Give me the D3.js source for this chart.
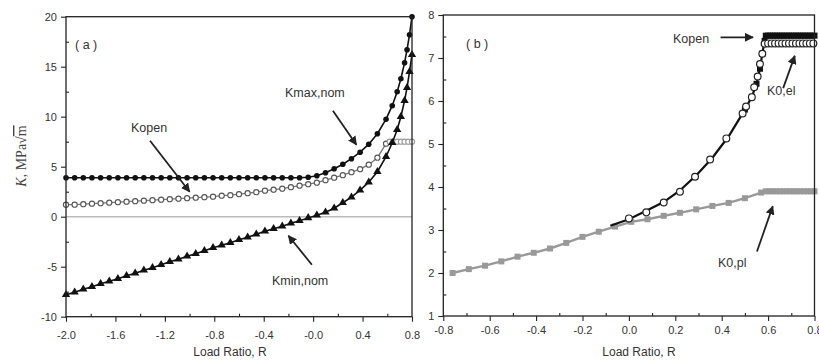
<!DOCTYPE html>
<html>
<head>
<meta charset="utf-8">
<script src="https://cdn.jsdelivr.net/npm/d3@7"></script>
<style>
  body { margin: 0; background: #fff; }
  text { font-family: "Liberation Sans", Arial, sans-serif; }
</style>
</head>
<body>
<svg id="chart" width="819" height="363"></svg>
<script>
// panel (a) - nominal K values vs load ratio
const rA = [-2.00, -1.93, -1.86, -1.79, -1.72, -1.65, -1.58, -1.51, -1.44, -1.37, -1.30, -1.23, -1.16, -1.09, -1.02,
  -0.95, -0.88, -0.81, -0.74, -0.67, -0.60, -0.53, -0.46, -0.39, -0.32, -0.25, -0.18, -0.11, -0.04,
  0.03, 0.10, 0.17, 0.24, 0.31, 0.38, 0.45, 0.52, 0.59, 0.64, 0.68, 0.71, 0.74, 0.76, 0.78, 0.80];
const kmaxA = [3.9, 3.9, 3.9, 3.9, 3.9, 3.9, 3.9, 3.9, 3.9, 3.9, 3.9, 3.9, 3.9, 3.9, 3.9,
  3.9, 3.9, 3.9, 3.9, 3.9, 3.9, 3.9, 3.9, 3.9, 3.9, 3.9, 3.9, 3.9, 3.95,
  4.1, 4.4, 4.8, 5.25, 5.8, 6.45, 7.25, 8.3, 9.75, 11.1, 12.5, 13.8, 15.4, 16.7, 18.2, 20.0];
const kminA = [-7.8, -7.55, -7.25, -7.0, -6.7, -6.45, -6.2, -5.9, -5.65, -5.35, -5.1, -4.8, -4.5, -4.25, -3.95,
  -3.7, -3.4, -3.1, -2.85, -2.6, -2.3, -2.05, -1.75, -1.45, -1.2, -0.95, -0.65, -0.4, -0.12,
  0.15, 0.45, 0.85, 1.4, 1.95, 2.65, 3.45, 4.5, 6.0, 7.4, 8.7, 10.0, 11.6, 12.9, 14.5, 16.2];
const rOpenA = [-2.00, -1.93, -1.86, -1.79, -1.72, -1.65, -1.58, -1.51, -1.44, -1.37, -1.30, -1.23, -1.16, -1.09, -1.02,
  -0.95, -0.88, -0.81, -0.74, -0.67, -0.60, -0.53, -0.46, -0.39, -0.32, -0.25, -0.18, -0.11, -0.04,
  0.03, 0.10, 0.17, 0.24, 0.31, 0.38, 0.45, 0.52, 0.59, 0.62, 0.65, 0.68, 0.71, 0.74, 0.77, 0.80];
const kOpenA = [1.2, 1.2, 1.25, 1.3, 1.35, 1.4, 1.45, 1.5, 1.55, 1.6, 1.65, 1.7, 1.75, 1.8, 1.85,
  1.9, 1.95, 2.0, 2.1, 2.15, 2.25, 2.35, 2.45, 2.6, 2.7, 2.8, 2.95, 3.1, 3.25,
  3.4, 3.65, 3.9, 4.15, 4.45, 4.75, 5.2, 5.9, 7.3, 7.5, 7.5, 7.5, 7.5, 7.5, 7.5, 7.5];

// panel (b) - opening levels
const rPl = [-0.76, -0.69, -0.62, -0.55, -0.48, -0.41, -0.34, -0.27, -0.20, -0.13, -0.06, 0.01, 0.08, 0.15,
  0.22, 0.29, 0.36, 0.43, 0.50, 0.57, 0.59, 0.605, 0.62, 0.635, 0.65, 0.665, 0.68, 0.695, 0.71, 0.725,
  0.74, 0.755, 0.77, 0.785, 0.80];
const kPl = [2.0, 2.09, 2.17, 2.27, 2.38, 2.47, 2.57, 2.70, 2.84, 2.96, 3.08, 3.19, 3.25, 3.33,
  3.40, 3.48, 3.56, 3.63, 3.74, 3.87, 3.9, 3.9, 3.9, 3.9, 3.9, 3.9, 3.9, 3.9, 3.9, 3.9,
  3.9, 3.9, 3.9, 3.9, 3.9];
const rEl = [0.0, 0.075, 0.15, 0.22, 0.285, 0.35, 0.42, 0.49, 0.505, 0.53, 0.54, 0.555, 0.565, 0.575, 0.585,
  0.60, 0.615, 0.63, 0.645, 0.66, 0.675, 0.69, 0.705, 0.72, 0.735, 0.75, 0.765, 0.78, 0.795];
const kEl = [3.27, 3.41, 3.64, 3.89, 4.24, 4.64, 5.13, 5.71, 5.87, 6.09, 6.32, 6.57, 6.86, 7.1, 7.33,
  7.34, 7.34, 7.34, 7.34, 7.34, 7.34, 7.34, 7.34, 7.34, 7.34, 7.34, 7.34, 7.34, 7.34];
const rOp = [-0.08, 0.0, 0.075, 0.15, 0.22, 0.29, 0.36, 0.43, 0.50, 0.53, 0.55, 0.565, 0.575, 0.585, 0.59,
  0.60, 0.61, 0.62, 0.63, 0.64, 0.65, 0.66, 0.67, 0.68, 0.69, 0.70, 0.71, 0.72, 0.73, 0.74, 0.75,
  0.76, 0.77, 0.78, 0.79, 0.80];
const kOp = [3.1, 3.25, 3.45, 3.65, 3.92, 4.27, 4.68, 5.18, 5.8, 6.1, 6.4, 6.75, 7.1, 7.4, 7.52,
  7.52, 7.52, 7.52, 7.52, 7.52, 7.52, 7.52, 7.52, 7.52, 7.52, 7.52, 7.52, 7.52, 7.52, 7.52, 7.52,
  7.52, 7.52, 7.52, 7.52, 7.52];

// tick labels
const xTicksA = [-2.0, -1.6, -1.2, -0.8, -0.4, 0.0, 0.4, 0.8];
const xLabelsA = ["-2.0", "-1.6", "-1.2", "-0.8", "-0.4", "-0.0", "0.4", "0.8"];
const yTicksA = [20, 15, 10, 5, 0, -5, -10];
const xTicksB = [-0.8, -0.6, -0.4, -0.2, 0.0, 0.2, 0.4, 0.6, 0.8];
const xLabelsB = ["-0.8", "-0.6", "-0.4", "-0.2", "0.0", "0.2", "0.4", "0.6", "0.8"];
const yTicksB = [1, 2, 3, 4, 5, 6, 7, 8];

const svg = d3.select("#chart");
const ink = "#222";

// arrowhead marker
svg.append("defs").append("marker")
  .attr("id", "head")
  .attr("viewBox", "0 0 10 10")
  .attr("refX", 9).attr("refY", 5)
  .attr("markerWidth", 9).attr("markerHeight", 9)
  .attr("markerUnits", "userSpaceOnUse")
  .attr("orient", "auto")
  .append("path").attr("d", "M0,0 L10,5 L0,10 z").attr("fill", ink);

function frame(g, x, y, xt, xl, yt, minorX, minorY, labelDy) {
  let [x0, x1] = x.range(), [y0, y1] = y.range();
  // major ticks outside with labels
  g.append("g").attr("transform", `translate(0,${y0})`)
    .call(d3.axisBottom(x).tickValues(xt).tickFormat((d, i) => xl[i]).tickSize(5).tickSizeOuter(0).tickPadding(labelDy))
    .call(a => a.select(".domain").remove());
  g.append("g").attr("transform", `translate(${x0},0)`)
    .call(d3.axisLeft(y).tickValues(yt).tickFormat(d => String(d)).tickSize(5).tickSizeOuter(0).tickPadding(4))
    .call(a => a.select(".domain").remove());
  // minor ticks inside
  g.append("g").attr("transform", `translate(0,${y0})`)
    .call(d3.axisBottom(x).tickValues(minorX).tickFormat("").tickSize(-3).tickSizeOuter(0))
    .call(a => a.select(".domain").remove());
  g.append("g").attr("transform", `translate(${x0},0)`)
    .call(d3.axisLeft(y).tickValues(minorY).tickFormat("").tickSize(-3).tickSizeOuter(0))
    .call(a => a.select(".domain").remove());
  g.selectAll(".tick line").attr("stroke", ink).attr("stroke-width", 1.1);
  g.selectAll(".tick text").attr("font-size", 11).attr("fill", "#333")
    .attr("font-family", "'Liberation Sans', Arial, sans-serif");
  g.append("rect").attr("x", x0).attr("y", y1).attr("width", x1 - x0).attr("height", y0 - y1)
    .attr("fill", "none").attr("stroke", ink).attr("stroke-width", 1.3);
}

function arrow(g, x1, y1, x2, y2) {
  g.append("line").attr("x1", x1).attr("y1", y1).attr("x2", x2).attr("y2", y2)
    .attr("stroke", ink).attr("stroke-width", 1.8).attr("marker-end", "url(#head)");
}

function label(g, x, y, t, anchor) {
  return g.append("text").attr("x", x).attr("y", y).attr("font-size", 12.5)
    .attr("fill", "#333").attr("text-anchor", anchor || "start").text(t);
}

// ---------- panel (a) ----------
const xA = d3.scaleLinear().domain([-2.0, 0.8]).range([66, 412]);
const yA = d3.scaleLinear().domain([-10, 20]).range([316.7, 16.7]);
const gA = svg.append("g");

gA.append("line").attr("x1", xA(-2.0)).attr("x2", xA(0.8)).attr("y1", yA(0)).attr("y2", yA(0))
  .attr("stroke", "#bbb").attr("stroke-width", 1.5);

const lineA = d3.line().x(d => xA(d[0])).y(d => yA(d[1]));
const maxPts = rA.map((r, i) => [r, kmaxA[i]]);
const minPts = rA.map((r, i) => [r, kminA[i]]);
const openPts = rOpenA.map((r, i) => [r, kOpenA[i]]);

gA.append("path").attr("d", lineA(openPts)).attr("fill", "none").attr("stroke", "#777").attr("stroke-width", 1.3);
gA.selectAll("circle.open").data(openPts).enter().append("circle").attr("class", "open")
  .attr("cx", d => xA(d[0])).attr("cy", d => yA(d[1])).attr("r", 2.6)
  .attr("fill", "#fff").attr("stroke", d => d[0] > 0.6 ? "#999" : "#555").attr("stroke-width", 1.1);

gA.append("path").attr("d", lineA(maxPts)).attr("fill", "none").attr("stroke", "#111").attr("stroke-width", 1.6);
gA.selectAll("circle.max").data(maxPts).enter().append("circle").attr("class", "max")
  .attr("cx", d => xA(d[0])).attr("cy", d => yA(d[1])).attr("r", 2.8).attr("fill", "#111");

gA.append("path").attr("d", lineA(minPts)).attr("fill", "none").attr("stroke", "#111").attr("stroke-width", 1.6);
gA.selectAll("path.tri").data(minPts).enter().append("path").attr("class", "tri")
  .attr("transform", d => `translate(${xA(d[0])},${yA(d[1])})`)
  .attr("d", d3.symbol(d3.symbolTriangle, 30)).attr("fill", "#111");

frame(gA, xA, yA, xTicksA, xLabelsA, yTicksA,
  [-1.8, -1.4, -1.0, -0.6, -0.2, 0.2, 0.6], [17.5, 12.5, 7.5, 2.5, -2.5, -7.5], 10);

label(gA, 75, 49, "( a )");
label(gA, 131, 132, "Kopen");
arrow(gA, xA(-1.32), yA(7.6), xA(-1.0), yA(2.5));
label(gA, 285, 97, "Kmax,nom");
arrow(gA, xA(0.16), yA(10.6), xA(0.35), yA(7.2));
label(gA, 272, 285, "Kmin,nom");
arrow(gA, xA(-0.01), yA(-4.8), xA(-0.2), yA(-1.9));

label(gA, 230, 356, "Load Ratio, R", "middle").attr("font-size", 12);

const yl = gA.append("text").attr("transform", "translate(26,156) rotate(-90)")
  .attr("text-anchor", "middle").attr("font-size", 14).attr("fill", "#444")
  .style("font-family", "'Liberation Serif', 'Times New Roman', serif");
yl.append("tspan").attr("font-style", "italic").text("K");
yl.append("tspan").text(", MPa\u221A");
yl.append("tspan").style("text-decoration", "overline").text("m");

// ---------- panel (b) ----------
const xB = d3.scaleLinear().domain([-0.8, 0.8]).range([443.3, 814.5]);
const yB = d3.scaleLinear().domain([1, 8]).range([316, 15]);
const gB = svg.append("g");
const lineB = d3.line().x(d => xB(d[0])).y(d => yB(d[1]));

const plPts = rPl.map((r, i) => [r, kPl[i]]);
const elPts = rEl.map((r, i) => [r, kEl[i]]);
const opPts = rOp.map((r, i) => [r, kOp[i]]);

gB.append("path").attr("d", lineB(plPts)).attr("fill", "none").attr("stroke", "#999").attr("stroke-width", 2.4);
gB.selectAll("rect.pl").data(plPts).enter().append("rect").attr("class", "pl")
  .attr("x", d => xB(d[0]) - 3).attr("y", d => yB(d[1]) - 3).attr("width", 6).attr("height", 6)
  .attr("fill", "#999");

gB.append("path").attr("d", lineB(opPts)).attr("fill", "none").attr("stroke", "#111").attr("stroke-width", 2.2);
// squares only show where they peek out from under the open circles
gB.selectAll("rect.op").data(opPts.filter(d => d[0] >= 0.5)).enter().append("rect").attr("class", "op")
  .attr("x", d => xB(d[0]) - 3).attr("y", d => yB(d[1]) - 3).attr("width", 6).attr("height", 6)
  .attr("fill", "#111");

gB.selectAll("circle.el").data(elPts).enter().append("circle").attr("class", "el")
  .attr("cx", d => xB(d[0])).attr("cy", d => yB(d[1])).attr("r", 3.4)
  .attr("fill", "#fff").attr("stroke", "#222").attr("stroke-width", 1.2);

frame(gB, xB, yB, xTicksB, xLabelsB, yTicksB,
  [-0.7, -0.5, -0.3, -0.1, 0.1, 0.3, 0.5, 0.7], [1.5, 2.5, 3.5, 4.5, 5.5, 6.5, 7.5], 5);

label(gB, 466, 48, "( b )");
label(gB, 673, 43, "Kopen");
arrow(gB, xB(0.395), yB(7.48), xB(0.535), yB(7.48));
label(gB, 767, 95, "K0,el");
arrow(gB, xB(0.665), yB(6.3), xB(0.715), yB(7.05));
label(gB, 718, 267, "K0,pl");
arrow(gB, xB(0.552), yB(2.5), xB(0.62), yB(3.55));

label(gB, 639, 356, "Load Ratio, R", "middle").attr("font-size", 12);
</script>
</body>
</html>
